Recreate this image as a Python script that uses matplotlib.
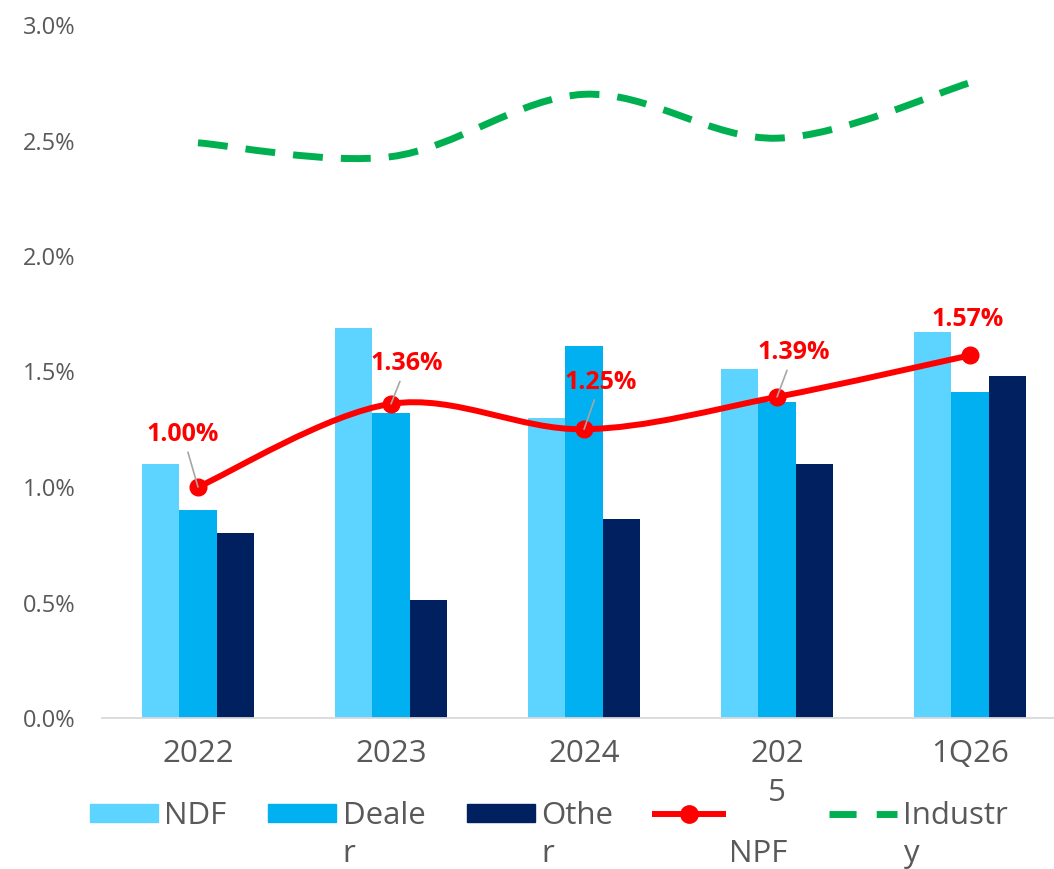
import matplotlib
matplotlib.use("Agg")
import matplotlib.pyplot as plt
from matplotlib.path import Path
from matplotlib.patches import PathPatch, Patch
from matplotlib.lines import Line2D

plt.rcParams['font.family'] = ['Open Sans', 'DejaVu Sans']

# data (values in %)
categories = ["2022", "2023", "2024", "2025", "1Q26"]
tick_labels = ["2022", "2023", "2024", "202\n5", "1Q26"]
ndf = [1.10, 1.69, 1.30, 1.51, 1.67]
dealer = [0.90, 1.32, 1.61, 1.37, 1.41]
other = [0.80, 0.51, 0.86, 1.10, 1.48]
npf = [1.00, 1.36, 1.25, 1.39, 1.57]
industry = [2.49, 2.43, 2.70, 2.51, 2.75]
npf_labels = ["1.00%", "1.36%", "1.25%", "1.39%", "1.57%"]
# label offsets (points) for the NPF data labels
label_offsets = [(-11, 38), (11.5, 29), (12, 34), (12, 32), (-1.5, 26)]

c_ndf = '#5DD3FF'
c_dealer = '#00B0F0'
c_other = '#002060'
c_npf = '#FF0000'
c_ind = '#00B050'
c_text = '#595959'


def smooth_path(xs, ys):
    # excel-like smoothed line (catmull-rom as cubic bezier)
    pts = list(zip(xs, ys))
    n = len(pts)
    verts = [pts[0]]
    codes = [Path.MOVETO]
    for i in range(n - 1):
        p0 = pts[i - 1] if i > 0 else pts[i]
        p1 = pts[i]
        p2 = pts[i + 1]
        p3 = pts[i + 2] if i + 2 < n else pts[i + 1]
        c1 = (p1[0] + (p2[0] - p0[0]) / 6, p1[1] + (p2[1] - p0[1]) / 6)
        c2 = (p2[0] - (p3[0] - p1[0]) / 6, p2[1] - (p3[1] - p1[1]) / 6)
        verts += [c1, c2, p2]
        codes += [Path.CURVE4] * 3
    return Path(verts, codes)


W, H = 1054, 869
fig = plt.figure(figsize=(W / 100, H / 100), dpi=100)
ax = fig.add_axes([101.5 / W, (H - 718) / H, (W - 101.5) / W, (718 - 25) / H])

x = list(range(len(categories)))
bw = 0.195
ax.bar([i - bw for i in x], ndf, bw, color=c_ndf, zorder=2)
ax.bar(x, dealer, bw, color=c_dealer, zorder=2)
ax.bar([i + bw for i in x], other, bw, color=c_other, zorder=2)

ax.add_patch(PathPatch(smooth_path(x, industry), fill=False, edgecolor=c_ind,
                       lw=5, linestyle=(0, (4.3, 2.6)), capstyle='butt', zorder=3))
ax.add_patch(PathPatch(smooth_path(x, npf), fill=False, edgecolor=c_npf,
                       lw=4.3, zorder=4))
ax.plot(x, npf, 'o', color=c_npf, ms=12, zorder=5)

for i, (v, lab) in enumerate(zip(npf, npf_labels)):
    arrow = dict(arrowstyle='-', color='#A6A6A6', lw=1.2, shrinkA=2, shrinkB=0) if i < 4 else None
    ax.annotate(lab, (i, v), xytext=label_offsets[i], textcoords='offset points',
                ha='center', va='center', color=c_npf, fontsize=18, fontweight='bold',
                arrowprops=arrow, zorder=6)

ax.set_xlim(-0.5, 4.435)
ax.set_ylim(0, 3.0)
ax.set_yticks([0, 0.5, 1.0, 1.5, 2.0, 2.5, 3.0])
ax.set_yticklabels([f"{t:.1f}%" for t in ax.get_yticks()])
ax.set_xticks(x)
ax.set_xticklabels(tick_labels)
ax.tick_params(axis='y', length=0, pad=19, labelsize=17, labelcolor=c_text)
ax.tick_params(axis='x', length=0, pad=15, labelsize=22.5, labelcolor=c_text)
for t in ax.get_xticklabels():
    t.set_linespacing(1.4)
for s in ['top', 'right', 'left']:
    ax.spines[s].set_visible(False)
ax.spines['bottom'].set_color('#D9D9D9')
ax.spines['bottom'].set_linewidth(1.3)

handles = [Patch(color=c_ndf), Patch(color=c_dealer), Patch(color=c_other),
           Line2D([], [], color=c_npf, lw=4.3, marker='o', ms=12.5),
           Line2D([], [], color=c_ind, lw=5, linestyle=(0, (3.9, 2.9)))]
first_lines = ["NDF", "Deale", "Othe", "NPF", "Industr"]
second_lines = ["", "r", "r", "NPF", "y"]
leg = fig.legend(handles, first_lines, loc='center left',
                 bbox_to_anchor=(90 / W, 1 - 816 / H), ncol=5, frameon=False,
                 fontsize=22.5, handlelength=2.18, handleheight=0.5,
                 handletextpad=0.2, columnspacing=1.33, borderpad=0, borderaxespad=0,
                 labelcolor=c_text)
leg.get_texts()[3].set_alpha(0)

fig.canvas.draw()
r = fig.canvas.get_renderer()
for t, s in zip(leg.get_texts(), second_lines):
    if s:
        bb = t.get_window_extent(r)
        fig.text(bb.x0 / W, 1 - 854 / H, s, fontsize=22.5, color=c_text,
                 ha='left', va='center')

fig.savefig('out.png', dpi=100)
